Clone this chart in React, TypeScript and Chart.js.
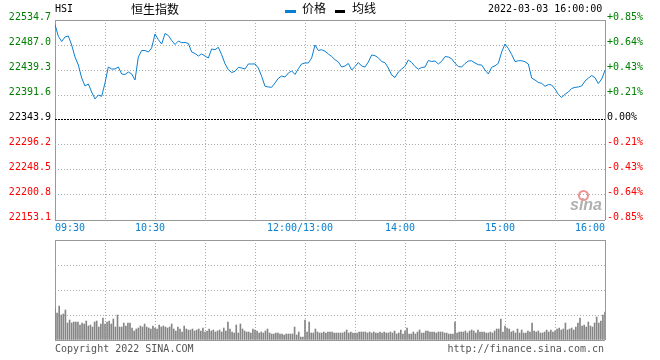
import React, { useEffect, useRef } from 'react';
import { Chart, registerables } from 'chart.js';

Chart.register(...registerables);

// ---------- data ----------
const PREV_CLOSE = 22343.9;
const priceTicks = [22153.1, 22200.8, 22248.5, 22296.2, 22343.9, 22391.6, 22439.3, 22487.0, 22534.7];
const pctLabels = ['-0.85%', '-0.64%', '-0.43%', '-0.21%', '0.00%', '+0.21%', '+0.43%', '+0.64%', '+0.85%'];
const timeLabels = ['09:30', '10:30', '12:00/13:00', '14:00', '15:00', '16:00'];
const timeLabelMinutes = [0, 60, 150, 210, 270, 330];
const gridMinutes = [0, 30, 60, 90, 120, 150, 180, 210, 240, 270, 300, 330];
const SESSION_MINUTES = 330;
const PRICE_STEP_MINUTES = 2;

// HSI price, one sample every 2 trading minutes (09:30 -> 16:00)
const prices = [
  22526.1, 22503.6, 22493.7, 22502.3, 22504.2, 22487.0, 22464.1, 22448.8, 22424.0, 22408.8,
  22412.6, 22397.3, 22384.0, 22391.6, 22389.1, 22414.5, 22445.0, 22441.2, 22441.2, 22445.0,
  22431.7, 22430.7, 22435.5, 22431.7, 22420.2, 22464.1, 22476.5, 22476.5, 22473.6, 22481.3,
  22508.0, 22497.1, 22488.9, 22508.9, 22505.1, 22495.6, 22488.0, 22494.6, 22491.4, 22491.8,
  22489.9, 22473.6, 22470.8, 22466.0, 22469.8, 22466.0, 22462.2, 22479.4, 22478.0, 22482.6,
  22468.5, 22451.3, 22439.9, 22434.5, 22436.8, 22444.4, 22443.1, 22441.2, 22450.8, 22450.8,
  22450.8, 22443.1, 22427.3, 22408.2, 22406.9, 22406.3, 22414.5, 22423.5, 22427.9, 22425.9,
  22433.6, 22437.4, 22430.7, 22441.8, 22450.8, 22452.7, 22452.7, 22462.2, 22487.0, 22476.5,
  22478.0, 22475.0, 22469.8, 22465.1, 22459.0, 22454.6, 22445.0, 22446.9, 22451.7, 22439.3,
  22446.0, 22453.6, 22446.9, 22445.0, 22454.6, 22467.9, 22466.6, 22462.6, 22455.5, 22453.2,
  22443.1, 22429.8, 22425.0, 22435.5, 22441.2, 22446.4, 22458.4, 22453.6, 22446.0, 22440.8,
  22444.1, 22445.0, 22457.4, 22455.5, 22456.5, 22450.8, 22455.9, 22464.9, 22464.1, 22460.7,
  22452.1, 22446.0, 22445.0, 22451.7, 22456.5, 22456.9, 22452.7, 22449.4, 22448.8, 22439.3,
  22431.7, 22444.4, 22447.3, 22452.1, 22473.6, 22488.9, 22480.3, 22468.9, 22455.3, 22457.0,
  22457.0, 22455.0, 22450.8, 22424.0, 22420.2, 22415.5, 22413.9, 22408.2, 22411.6, 22410.7,
  22403.1, 22392.6, 22386.8, 22393.1, 22397.3, 22404.0, 22406.1, 22406.9, 22408.8, 22418.3,
  22423.7, 22428.8, 22424.6, 22413.5, 22422.1, 22438.3,
];

// relative volume per bar (panel scale 0..100)
const volumes = [
  32, 27, 34, 25, 26, 30, 17, 20, 17, 18, 18, 18, 15, 17, 16, 19, 14, 15, 13, 18, 19, 13, 16, 22,
  16, 18, 19, 16, 21, 13, 25, 13, 13, 17, 14, 17, 17, 12, 9, 11, 12, 14, 13, 16, 13, 12, 11, 14,
  12, 11, 15, 13, 14, 13, 12, 13, 16, 11, 9, 13, 11, 8, 14, 11, 10, 10, 11, 9, 10, 11, 9, 12,
  8, 9, 11, 9, 10, 8, 9, 10, 8, 12, 9, 18, 11, 8, 7, 15, 7, 16, 11, 9, 8, 8, 7, 11,
  10, 9, 7, 8, 7, 9, 11, 7, 6, 6, 7, 7, 6, 6, 5, 6, 6, 6, 6, 13, 5, 8, 3, 3,
  20, 8, 18, 7, 7, 11, 8, 7, 7, 8, 7, 8, 8, 8, 7, 7, 7, 7, 7, 8, 10, 7, 8, 7,
  7, 7, 8, 8, 8, 8, 7, 8, 7, 8, 7, 7, 8, 7, 8, 7, 7, 8, 7, 9, 6, 7, 10, 6,
  9, 12, 6, 6, 8, 6, 8, 10, 7, 7, 9, 9, 8, 8, 8, 7, 8, 8, 8, 7, 7, 6, 6, 6,
  18, 7, 8, 8, 8, 9, 7, 9, 10, 9, 7, 10, 8, 8, 8, 7, 7, 8, 7, 9, 11, 11, 21, 8,
  14, 12, 11, 8, 9, 7, 11, 7, 10, 7, 7, 9, 8, 17, 9, 8, 9, 7, 7, 8, 10, 8, 10, 8,
  9, 11, 12, 10, 11, 17, 10, 11, 12, 10, 13, 17, 22, 14, 15, 13, 18, 14, 13, 17, 23, 17, 19, 25,
  28,
];
const volumeGridTicks = [0, 25, 50, 75, 100];

// ---------- styles ----------
const MONO = "'DejaVu Sans Mono', 'Liberation Mono', monospace";
const CJK = "'Noto Sans CJK SC', 'Noto Sans', sans-serif";
const GRID = '#aaaaaa';
const EDGE = '#999999';
const UP = '#008000';
const DOWN = '#ff0000';
const LINE_BLUE = '#0a7ed0';
const TIME_BLUE = '#0a80d0';
const VOL_GRAY = '#858585';

export default function App() {
  const mainRef = useRef<HTMLCanvasElement>(null);
  const volRef = useRef<HTMLCanvasElement>(null);

  useEffect(() => {
    const zeroIdx = priceTicks.indexOf(PREV_CLOSE);
    const lastY = priceTicks.length - 1;
    const lastX = gridMinutes.length - 1;
    const tickColor = (c: any) => (c.index > zeroIdx ? UP : c.index === zeroIdx ? '#000000' : DOWN);
    const xGridColor = (c: any) => (c.index === 0 || c.index === lastX ? EDGE : GRID);
    const xGridDash = (c: any) => (c.index === 0 || c.index === lastX ? [] : [1, 2]);
    const font = { family: MONO, size: 10 };

    const priceData = prices.map((p, i) => ({ x: i * PRICE_STEP_MINUTES, y: p }));
    const volStep = SESSION_MINUTES / (volumes.length - 1);
    const volData = volumes.map((v, i) => ({ x: i * volStep, y: v }));

    const main = new Chart(mainRef.current as HTMLCanvasElement, {
      type: 'line',
      data: {
        datasets: [
          {
            label: '价格',
            data: priceData,
            borderColor: LINE_BLUE,
            borderWidth: 1,
            pointRadius: 0,
            tension: 0,
            fill: false,
            xAxisID: 'x',
            yAxisID: 'y',
          },
        ],
      },
      options: {
        responsive: false,
        animation: false,
        devicePixelRatio: 1,
        layout: { padding: { top: 20, left: 0, right: 0, bottom: 0 } },
        plugins: { legend: { display: false }, tooltip: { enabled: false }, title: { display: false } },
        events: [],
        scales: {
          x: {
            type: 'linear',
            position: 'bottom',
            min: 0,
            max: SESSION_MINUTES,
            afterBuildTicks: (s: any) => {
              s.ticks = gridMinutes.map((m) => ({ value: m }));
            },
            afterFit: (s: any) => {
              s.height = 0;
            },
            ticks: { display: false, autoSkip: false },
            grid: { color: xGridColor, drawTicks: false, lineWidth: 1 },
            border: { display: false, dash: xGridDash },
          },
          xl: {
            type: 'linear',
            axis: 'x',
            position: 'bottom',
            min: 0,
            max: SESSION_MINUTES,
            afterBuildTicks: (s: any) => {
              const n = timeLabelMinutes.length - 1;
              s.ticks = timeLabelMinutes.map((m, i) => ({ value: i === 0 || i === n ? m : m - 3 }));
            },
            afterFit: (s: any) => {
              s.height = 20;
            },
            ticks: {
              autoSkip: false,
              maxRotation: 0,
              align: 'inner',
              padding: 2,
              color: TIME_BLUE,
              font,
              callback: (_v: any, i: number) => timeLabels[i],
            },
            grid: { display: false, drawTicks: false },
            border: { display: false },
          },
          y: {
            type: 'linear',
            position: 'left',
            min: priceTicks[0],
            max: priceTicks[lastY],
            afterBuildTicks: (s: any) => {
              s.ticks = priceTicks.map((v) => ({ value: v }));
            },
            afterFit: (s: any) => {
              s.width = 55;
            },
            ticks: {
              autoSkip: false,
              padding: 4,
              labelOffset: -3,
              color: tickColor,
              font,
              callback: (_v: any, i: number) => priceTicks[i].toFixed(1),
            },
            grid: {
              drawTicks: false,
              lineWidth: 1,
              color: (c: any) =>
                c.index === zeroIdx ? '#000000' : c.index === 0 || c.index === lastY ? EDGE : GRID,
            },
            border: {
              display: false,
              dash: (c: any) =>
                c.index === zeroIdx ? [2, 1] : c.index === 0 || c.index === lastY ? [] : [1, 2],
            },
          },
          y2: {
            type: 'linear',
            position: 'right',
            min: priceTicks[0],
            max: priceTicks[lastY],
            afterBuildTicks: (s: any) => {
              s.ticks = priceTicks.map((v) => ({ value: v }));
            },
            afterFit: (s: any) => {
              s.width = 55;
            },
            ticks: {
              autoSkip: false,
              padding: 2,
              labelOffset: -3,
              color: tickColor,
              font,
              callback: (_v: any, i: number) => pctLabels[i],
            },
            grid: { display: false, drawTicks: false },
            border: { display: false },
          },
        },
      },
    } as any);

    const vol = new Chart(volRef.current as HTMLCanvasElement, {
      type: 'bar',
      data: {
        datasets: [
          {
            label: '成交量',
            data: volData,
            backgroundColor: VOL_GRAY,
            borderWidth: 0,
            barThickness: 1,
          },
        ],
      },
      options: {
        responsive: false,
        animation: false,
        devicePixelRatio: 1,
        layout: { padding: { top: 10, left: 55, right: 55, bottom: 20 } },
        plugins: { legend: { display: false }, tooltip: { enabled: false } },
        events: [],
        scales: {
          x: {
            type: 'linear',
            min: 0,
            max: SESSION_MINUTES,
            offset: false,
            afterBuildTicks: (s: any) => {
              s.ticks = gridMinutes.map((m) => ({ value: m }));
            },
            ticks: { display: false },
            grid: { color: xGridColor, drawTicks: false, offset: false },
            border: { display: false, dash: xGridDash },
          },
          y: {
            type: 'linear',
            min: volumeGridTicks[0],
            max: volumeGridTicks[volumeGridTicks.length - 1],
            afterBuildTicks: (s: any) => {
              s.ticks = volumeGridTicks.map((v) => ({ value: v }));
            },
            ticks: { display: false },
            grid: {
              drawTicks: false,
              color: (c: any) => (c.index === 0 || c.index === volumeGridTicks.length - 1 ? EDGE : GRID),
            },
            border: {
              display: false,
              dash: (c: any) => (c.index === 0 || c.index === volumeGridTicks.length - 1 ? [] : [1, 2]),
            },
          },
        },
      },
    } as any);

    return () => {
      main.destroy();
      vol.destroy();
    };
  }, []);

  const abs = (extra: any) => ({ position: 'absolute' as const, whiteSpace: 'nowrap' as const, ...extra });

  return (
    <div
      style={{
        position: 'absolute',
        left: 0,
        top: 0,
        width: 660,
        height: 360,
        background: '#ffffff',
        overflow: 'hidden',
      }}
    >
      <canvas ref={mainRef} width={660} height={240} style={{ position: 'absolute', left: 0, top: 0 }} />
      <canvas ref={volRef} width={660} height={130} style={{ position: 'absolute', left: 0, top: 230 }} />

      {/* header */}
      <div style={abs({ left: 55, top: 4, font: `10px/10px ${MONO}`, color: '#000' })}>HSI</div>
      <div style={abs({ left: 131, top: 3, font: `12px/12px ${CJK}`, color: '#000' })}>恒生指数</div>
      <div style={abs({ left: 285, top: 10, width: 11, height: 3, background: LINE_BLUE })} />
      <div style={abs({ left: 302, top: 2, font: `12px/12px ${CJK}`, color: '#000' })}>价格</div>
      <div style={abs({ left: 335, top: 10, width: 10, height: 3, background: '#000' })} />
      <div style={abs({ left: 352, top: 2, font: `12px/12px ${CJK}`, color: '#000' })}>均线</div>
      <div style={abs({ left: 488, top: 4, font: `10px/10px ${MONO}`, color: '#000' })}>2022-03-03 16:00:00</div>

      {/* watermark */}
      <div
        style={abs({
          left: 578,
          top: 190,
          width: 7,
          height: 7,
          borderRadius: '50%',
          border: '2px solid #f09090',
        })}
      />
      <div
        style={abs({
          left: 570,
          top: 197,
          font: `italic bold 16px/16px 'Liberation Sans', Arial, sans-serif`,
          color: '#b0b0b0',
        })}
      >
        sina
      </div>

      {/* footer */}
      <div style={abs({ left: 55, top: 344, font: `10px/10px ${MONO}`, color: '#555' })}>Copyright 2022 SINA.COM</div>
      <div style={abs({ right: 56, top: 344, font: `10px/10px ${MONO}`, color: '#555' })}>http://finance.sina.com.cn</div>
    </div>
  );
}
